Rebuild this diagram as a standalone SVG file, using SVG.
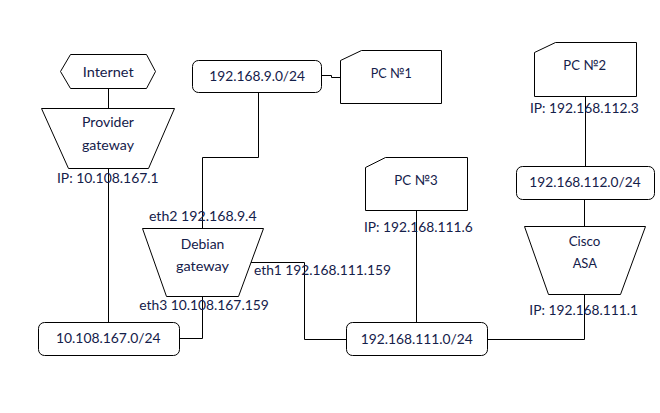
<svg xmlns="http://www.w3.org/2000/svg" width="660" height="413" viewBox="0 0 660 413">
<style>
.s{fill:#fff;stroke:#000;stroke-width:1}
.c{fill:none;stroke:#000;stroke-width:1}
text{font-family:Lato,"Open Sans","Liberation Sans",sans-serif;font-size:14px;fill:#14204a;text-anchor:middle}
</style>
<rect width="660" height="413" fill="#fff"/>
<g id="connectors">
<polyline class="c" points="108.5,88.5 108.5,108.5"/>
<polyline class="c" points="108.5,168 108.5,322.5"/>
<polyline class="c" points="202.5,296 202.5,338.5 179.5,338.5"/>
<polyline class="c" points="202.5,228.5 202.5,157.5 258.5,157.5 258.5,92.5"/>
<polyline class="c" points="321.5,75.5 331.5,75.5 331.5,77.5 340.5,77.5"/>
<polyline class="c" points="251,262.5 304.5,262.5 304.5,339.5 346.5,339.5"/>
<polyline class="c" points="416.5,210.5 416.5,322.5"/>
<polyline class="c" points="487.5,339.5 584.5,339.5 584.5,294.5"/>
<polyline class="c" points="584.5,226.5 584.5,199.5"/>
<polyline class="c" points="585.5,166.5 585.5,96.5"/>
</g>
<g id="internet">
<polygon class="s" points="60.5,71.5 70.5,54.5 146.5,54.5 155.5,71.5 146.5,88.5 70.5,88.5"/>
<text x="108.2" y="77.3" textLength="51" lengthAdjust="spacingAndGlyphs">Internet</text>
</g>
<g id="provider">
<polygon class="s" points="41.5,108.5 174.5,108.5 148.5,168.5 68.5,168.5"/>
<text x="108" y="127.3" textLength="52" lengthAdjust="spacingAndGlyphs">Provider</text>
<text x="108" y="150" textLength="52" lengthAdjust="spacingAndGlyphs">gateway</text>
<text x="107.8" y="182.7" textLength="101.7" lengthAdjust="spacingAndGlyphs">IP: 10.108.167.1</text>
</g>
<g id="net9">
<rect class="s" x="192.5" y="60.5" width="129" height="32" rx="6"/>
<text x="257.2" y="80.7" textLength="95.7" lengthAdjust="spacingAndGlyphs">192.168.9.0/24</text>
</g>
<g id="pc1">
<polygon class="s" points="340.5,60.5 361.5,50.5 441.5,50.5 441.5,103.5 340.5,103.5"/>
<text x="391.2" y="77.7" textLength="41" lengthAdjust="spacingAndGlyphs">PC №1</text>
</g>
<g id="pc2">
<polygon class="s" points="534.5,52.5 555.5,42.5 636.5,42.5 636.5,96.5 534.5,96.5"/>
<text x="584.7" y="70" textLength="42.7" lengthAdjust="spacingAndGlyphs">PC №2</text>
<text x="584.3" y="112.7" textLength="108.7" lengthAdjust="spacingAndGlyphs">IP: 192.168.112.3</text>
</g>
<g id="net112">
<rect class="s" x="516.5" y="166.5" width="138" height="33" rx="6"/>
<text x="585" y="187.3" textLength="111.3" lengthAdjust="spacingAndGlyphs">192.168.112.0/24</text>
</g>
<g id="debian">
<polygon class="s" points="142.5,228.5 263.5,228.5 238.5,296.5 166.5,296.5"/>
<text x="202.5" y="248.7" textLength="43.7" lengthAdjust="spacingAndGlyphs">Debian</text>
<text x="202.5" y="271" textLength="53" lengthAdjust="spacingAndGlyphs">gateway</text>
<text x="202.8" y="220.7" textLength="107.7" lengthAdjust="spacingAndGlyphs">eth2 192.168.9.4</text>
<text x="204" y="310" textLength="129.4" lengthAdjust="spacingAndGlyphs">eth3 10.108.167.159</text>
<text x="322.5" y="275.3" textLength="137" lengthAdjust="spacingAndGlyphs">eth1 192.168.111.159</text>
</g>
<g id="pc3">
<polygon class="s" points="365.5,167.5 385.5,157.5 467.5,157.5 467.5,210.5 365.5,210.5"/>
<text x="416" y="184.7" textLength="43.3" lengthAdjust="spacingAndGlyphs">PC №3</text>
<text x="418.3" y="232.3" textLength="108.7" lengthAdjust="spacingAndGlyphs">IP: 192.168.111.6</text>
</g>
<g id="cisco">
<polygon class="s" points="524.5,226.5 645.5,226.5 620.5,294.5 548.5,294.5"/>
<text x="584.5" y="245.7" textLength="31.7" lengthAdjust="spacingAndGlyphs">Cisco</text>
<text x="584.8" y="268" textLength="24.3" lengthAdjust="spacingAndGlyphs">ASA</text>
<text x="583.7" y="315" textLength="108.7" lengthAdjust="spacingAndGlyphs">IP: 192.168.111.1</text>
</g>
<g id="net111">
<rect class="s" x="346.5" y="322.5" width="141" height="33" rx="6"/>
<text x="416.7" y="344.3" textLength="112" lengthAdjust="spacingAndGlyphs">192.168.111.0/24</text>
</g>
<g id="net167">
<rect class="s" x="38.5" y="322.5" width="141" height="33" rx="6"/>
<text x="108.3" y="343.3" textLength="104.7" lengthAdjust="spacingAndGlyphs">10.108.167.0/24</text>
</g>
</svg>
